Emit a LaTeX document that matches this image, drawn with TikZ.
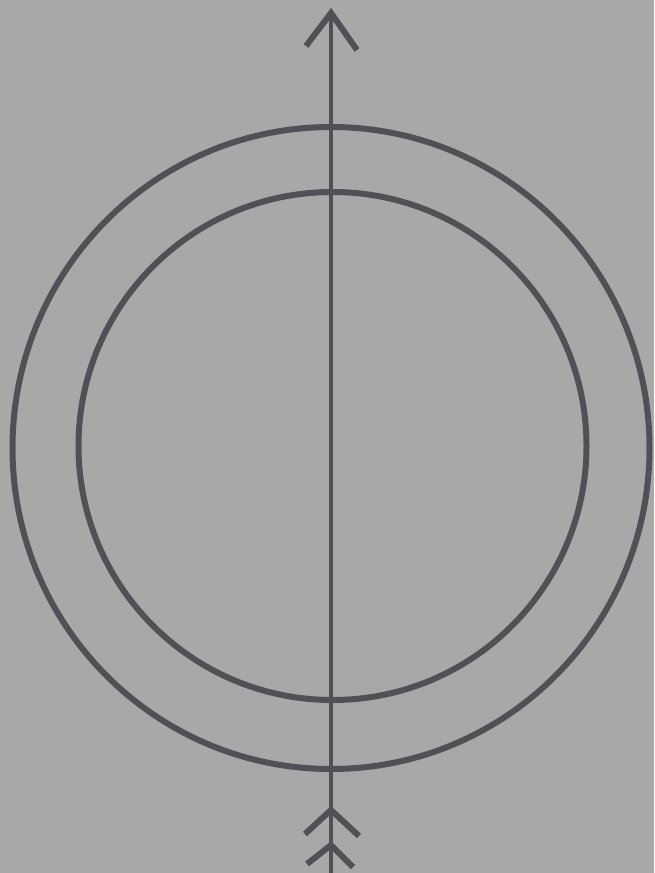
\documentclass[tikz,border=0pt]{standalone}
\definecolor{bg}{RGB}{168,168,168}
\definecolor{ink}{RGB}{82,80,86}
\begin{document}
\begin{tikzpicture}[x=1pt,y=-1pt,
  ring/.style={draw=ink,line width=6pt},
  shaft/.style={draw=ink,line width=4.5pt},
  feather/.style={draw=ink,line width=6pt,line join=miter}]
\fill[bg] (0,0) rectangle (654,873);
\useasboundingbox (0,0) rectangle (654,873);
\coordinate (c1) at (331,448);
\coordinate (c2) at (332.5,446);
\draw[ring] (c1) ellipse [x radius=318.5, y radius=321];
\draw[ring] (c2) ellipse [x radius=254, y radius=254];
\coordinate (tip) at (331,13);
\coordinate (tail) at (331,873);
\draw[shaft] (tip) -- (tail);
% arrowhead
\draw[feather] (306,46) -- (tip) -- (357,50);
% fletching
\coordinate (f1) at (331,810);
\coordinate (f2) at (331,845);
\draw[feather] (305,834) -- (f1) -- (359,836);
\draw[feather] (307,864) -- (f2) -- (353,867);
\end{tikzpicture}
\end{document}
